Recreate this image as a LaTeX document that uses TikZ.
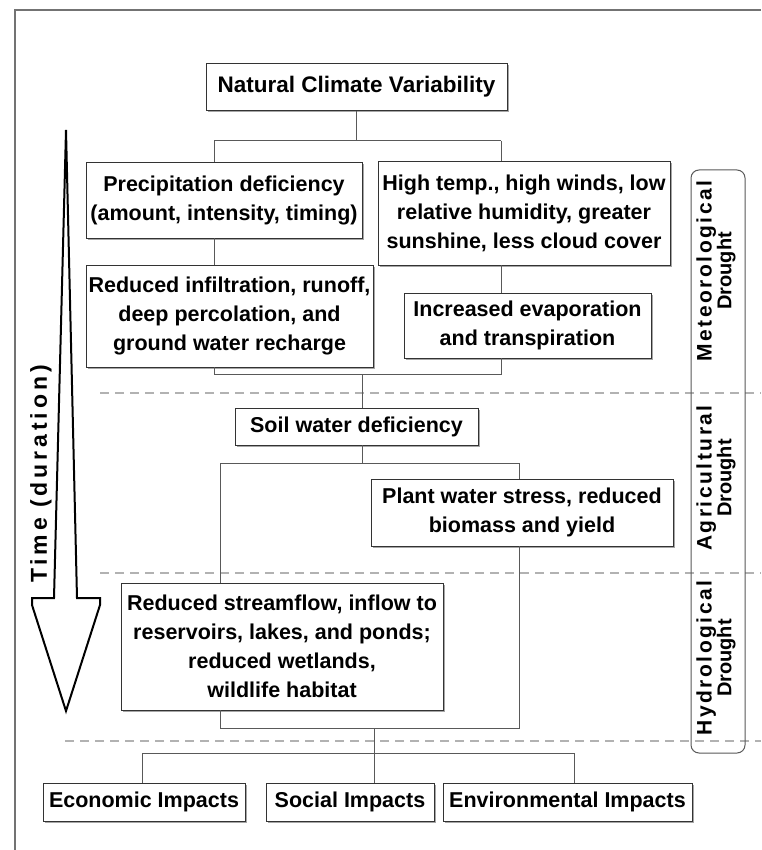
\documentclass[tikz,border=0pt]{standalone}
\usepackage{fontspec}
\setmainfont{Liberation Sans}
\usetikzlibrary{shadows}
\newcommand{\drt}{{\fontsize{20}{16}\selectfont\addfontfeature{LetterSpace=0}Drought}}
\begin{document}
\begin{tikzpicture}[x=1pt,y=-1pt,
  box/.style={draw=black!80, line width=0.9pt, fill=white, inner sep=0pt, align=center,
    font=\bfseries\fontsize{21.5}{29}\selectfont,
    general shadow={fill=black!35, shadow xshift=1.5pt, shadow yshift=-1.8pt}},
  conn/.style={draw=black!65, line width=1pt},
  sep/.style={draw=black!30, line width=1.8pt, dash pattern=on 9pt off 6pt},
  sidelab/.style={rotate=90, align=center, inner sep=0pt,
    font=\bfseries\fontsize{21}{16}\selectfont\addfontfeature{LetterSpace=12}}
]
\useasboundingbox (0,0) rectangle (761,850);
\fill[white] (0,0) rectangle (761,850);
% frame
\draw[line width=1.6pt, black!55] (15,850) -- (15,10) -- (761,10);

% dashed separators
\draw[sep] (100,393) -- (761,393);
\draw[sep] (100,573) -- (761,573);
\draw[sep] (65,741) -- (761,741);

% boxes
\node[box, minimum width=301pt, minimum height=47pt, font=\bfseries\fontsize{22.5}{29}\selectfont] (ncv) at (356.5,87) {Natural Climate Variability};
\node[box, minimum width=276pt, minimum height=76pt] (precip) at (224,200) {Precipitation deficiency\\(amount, intensity, timing)};
\node[box, minimum width=292pt, minimum height=104pt] (hightemp) at (524,213) {High temp., high winds, low\\relative humidity, greater\\sunshine, less cloud cover};
\node[box, minimum width=287pt, minimum height=102pt] (infil) at (229.5,316) {Reduced infiltration, runoff,\\deep percolation, and\\ground water recharge};
\node[box, minimum width=247pt, minimum height=65pt] (evap) at (527.5,325.5) {Increased evaporation\\and transpiration};
\node[box, minimum width=243pt, minimum height=37pt] (soil) at (356.5,426.5) {Soil water deficiency};
\node[box, minimum width=302pt, minimum height=67pt] (plant) at (522,512.5) {Plant water stress, reduced\\biomass and yield};
\node[box, minimum width=322pt, minimum height=127pt] (stream) at (282,646.5) {Reduced streamflow, inflow to\\reservoirs, lakes, and ponds;\\reduced wetlands,\\wildlife habitat};
\node[box, minimum width=202pt, minimum height=38pt] (econ) at (144,802) {Economic Impacts};
\node[box, minimum width=168pt, minimum height=38pt] (social) at (350,802) {Social Impacts};
\node[box, minimum width=249pt, minimum height=38pt] (env) at (567.5,802) {Environmental Impacts};

% junction coordinates
\coordinate (a1) at (214,141);
\coordinate (a2) at (501,141);
\coordinate (b1) at (214,374);
\coordinate (b2) at (501,374);
\coordinate (bm) at (362,374);
\coordinate (c1) at (220,463);
\coordinate (c2) at (519,463);
\coordinate (cm) at (362,463);
\coordinate (d1) at (220,728);
\coordinate (d2) at (519,728);
\coordinate (dm) at (374,728);
\coordinate (e1) at (142,753);
\coordinate (e2) at (574,753);
\coordinate (em) at (374,753);

% connectors
\draw[conn] (ncv.south) -- (ncv.south |- a1);
\draw[conn] (a1) -- (a2);
\draw[conn] (a1) -- (a1 |- precip.north);
\draw[conn] (a2) -- (a2 |- hightemp.north);
\draw[conn] (a1 |- precip.south) -- (a1 |- infil.north);
\draw[conn] (a2 |- hightemp.south) -- (a2 |- evap.north);
\draw[conn] (b1 |- infil.south) -- (b1) -- (b2) -- (b2 |- evap.south);
\draw[conn] (bm) -- (bm |- soil.north);
\draw[conn] (cm |- soil.south) -- (cm);
\draw[conn] (c1) -- (c2);
\draw[conn] (c2) -- (c2 |- plant.north);
\draw[conn] (c1) -- (c1 |- stream.north);
\draw[conn] (d2 |- plant.south) -- (d2) -- (d1) -- (d1 |- stream.south);
\draw[conn] (dm) -- (em);
\draw[conn] (e1) -- (e2);
\draw[conn] (e1) -- (e1 |- econ.north);
\draw[conn] (em) -- (em |- social.north);
\draw[conn] (e2) -- (e2 |- env.north);

% side phase box
\node[draw=black!65, line width=1pt, rounded corners=8pt, minimum width=54pt, minimum height=583pt, inner sep=0pt] (side) at (718,461.5) {};
\node[sidelab] (met) at (716,271) {Meteorological\\\drt};
\node[sidelab] (agr) at (716,478) {Agricultural\\\drt};
\node[sidelab] (hyd) at (716,658) {Hydrological\\\drt};

% time arrow
\draw[line width=2pt, black, line join=miter, fill=white]
  (66,130) -- (77,598) -- (100,598) -- (100,605) -- (66,711) -- (32,605) -- (32,598) -- (54,598) -- cycle;
\node[rotate=90, inner sep=0pt, font=\bfseries\fontsize{23}{23}\selectfont\addfontfeature{LetterSpace=17}] (time) at (41,474) {Time (duration)};
\end{tikzpicture}
\end{document}
